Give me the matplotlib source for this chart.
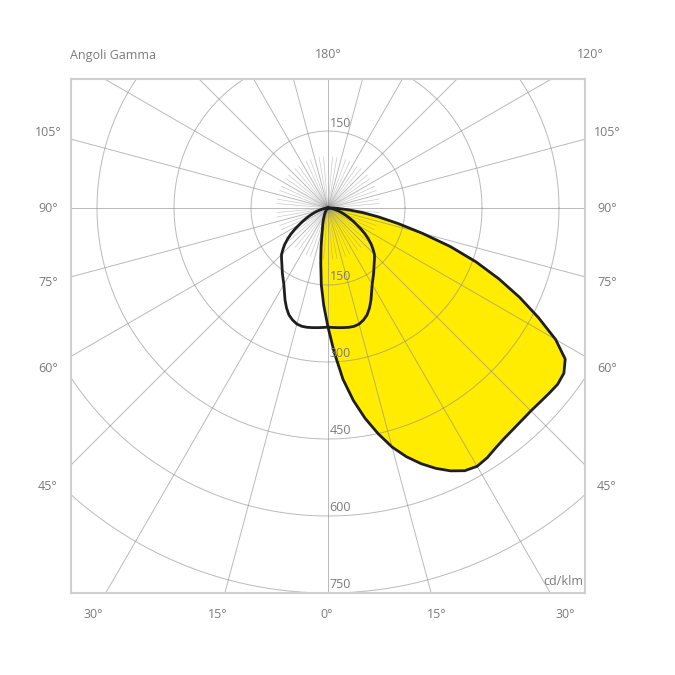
import numpy as np
import matplotlib.pyplot as plt

# photometric data, cd/klm, gamma angles from nadir (2.5° steps)
gamma = [0, 2.5, 5, 7.5, 10, 12.5, 15, 17.5, 20, 22.5, 25, 27.5, 30, 32.5, 35, 37.5,
         40, 42.5, 45, 47.5, 50, 52.5, 55, 57.5, 60, 62.5, 65, 67.5, 70, 72.5, 75,
         77.5, 80, 82.5, 85, 87.5, 90]
yellow_c0 = [232, 282, 335, 378, 416, 450, 482, 508, 530, 549, 565, 577, 581, 577, 570, 565,
             562, 560, 559, 560, 562, 564, 561, 548, 512, 462, 412, 360, 307, 250, 190,
             140, 100, 68, 40, 20, 8]
yellow_c180 = [232, 190, 150, 108, 78, 56, 42, 34, 28, 22, 18, 15, 12, 10, 8, 6,
               5, 4, 3, 2, 2, 1, 1, 0, 0, 0, 0, 0, 0, 0, 0,
               0, 0, 0, 0, 0, 0]
black_c90 = [232, 233, 234, 235, 236, 236, 234, 229, 222, 211, 198, 184, 172, 163, 155, 147,
             140, 134, 128, 119, 110, 99, 88, 76, 64, 55, 46, 38, 31, 25, 19,
             14, 10, 7, 4, 2, 0]

rings = [150, 300, 450, 600, 750]
ring_labels = ['150', '300', '450', '600', '750']

plt.rcParams['font.family'] = ['Open Sans', 'DejaVu Sans']
txt_color = '#7a7a7a'
grid_color = '#8c8c8c'

fig = plt.figure(figsize=(6.75, 6.75), dpi=100)
ax = fig.add_axes([71/675, 82/675, 514/675, 514/675])
ax.set_xlim(-500.7, 500.7)
ax.set_ylim(-750, 251.3)
ax.set_xticks([])
ax.set_yticks([])
for s in ax.spines.values():
    s.set_color('#cfcfcf')
    s.set_linewidth(1.5)


def to_xy(g, r, side=1):
    g = np.radians(np.array(g, dtype=float))
    r = np.array(r, dtype=float)
    return side * r * np.sin(g), -r * np.cos(g)


# grid: rings
t = np.linspace(0, 2*np.pi, 600)
for r in rings:
    ax.plot(r*np.cos(t), r*np.sin(t), color=grid_color, lw=0.7, alpha=0.6, zorder=2)

# grid: radial lines (every 15° full length, 5° near the centre)
for a in range(0, 360, 5):
    ang = np.radians(a)
    if a % 15 == 0:
        ax.plot([0, 1500*np.sin(ang)], [0, -1500*np.cos(ang)],
                color=grid_color, lw=0.7, alpha=0.6, zorder=2)
    else:
        ax.plot([0, 100*np.sin(ang)], [0, -100*np.cos(ang)],
                color=grid_color, lw=0.5, alpha=0.45, zorder=2)

# yellow curve
xr, yr = to_xy(gamma, yellow_c0, 1)
xl, yl = to_xy(gamma, yellow_c180, -1)
xs = np.concatenate([xl[::-1], xr])
ys = np.concatenate([yl[::-1], yr])
ax.fill(xs, ys, color='#ffec00', zorder=1, lw=0)
ax.plot(np.append(xs, xs[0]), np.append(ys, ys[0]), color='#1e1e1e', lw=2,
        zorder=4, solid_joinstyle='round')

# black curve
br_x, br_y = to_xy(gamma, black_c90, 1)
bl_x, bl_y = to_xy(gamma, black_c90, -1)
bx = np.concatenate([bl_x[::-1], br_x])
by = np.concatenate([bl_y[::-1], br_y])
ax.plot(np.append(bx, bx[0]), np.append(by, by[0]), color='#1e1e1e', lw=2,
        zorder=5, solid_joinstyle='round')

# ring labels
for r, lab in zip(rings, ring_labels):
    ax.text(3, -r + 16, lab, color=txt_color, fontsize=9, ha='left', va='center', zorder=6)
ax.text(3, 150 + 14, '150', color=txt_color, fontsize=9, ha='left', va='center', zorder=6)
ax.text(497, -740, 'cd/klm', color=txt_color, fontsize=9, ha='right', va='bottom', zorder=6)


def ftext(x, y, s, ha='center'):
    fig.text(x/675, 1 - y/675, s, color=txt_color, fontsize=9, ha=ha, va='center')


ftext(70, 55, 'Angoli Gamma', ha='left')
ftext(328, 55, '180°')
ftext(590, 55, '120°')

side_labels = ['105°', '90°', '75°', '60°', '45°']
side_y = [133, 208, 282, 369, 487]
for lab, y in zip(side_labels, side_y):
    ftext(48, y, lab)
    ftext(607, y, lab)

bottom_labels = ['30°', '15°', '0°', '15°', '30°']
bottom_x = [93, 218, 327, 437, 565]
for lab, x in zip(bottom_labels, bottom_x):
    ftext(x, 615, lab)

fig.savefig('out.png', dpi=100)
